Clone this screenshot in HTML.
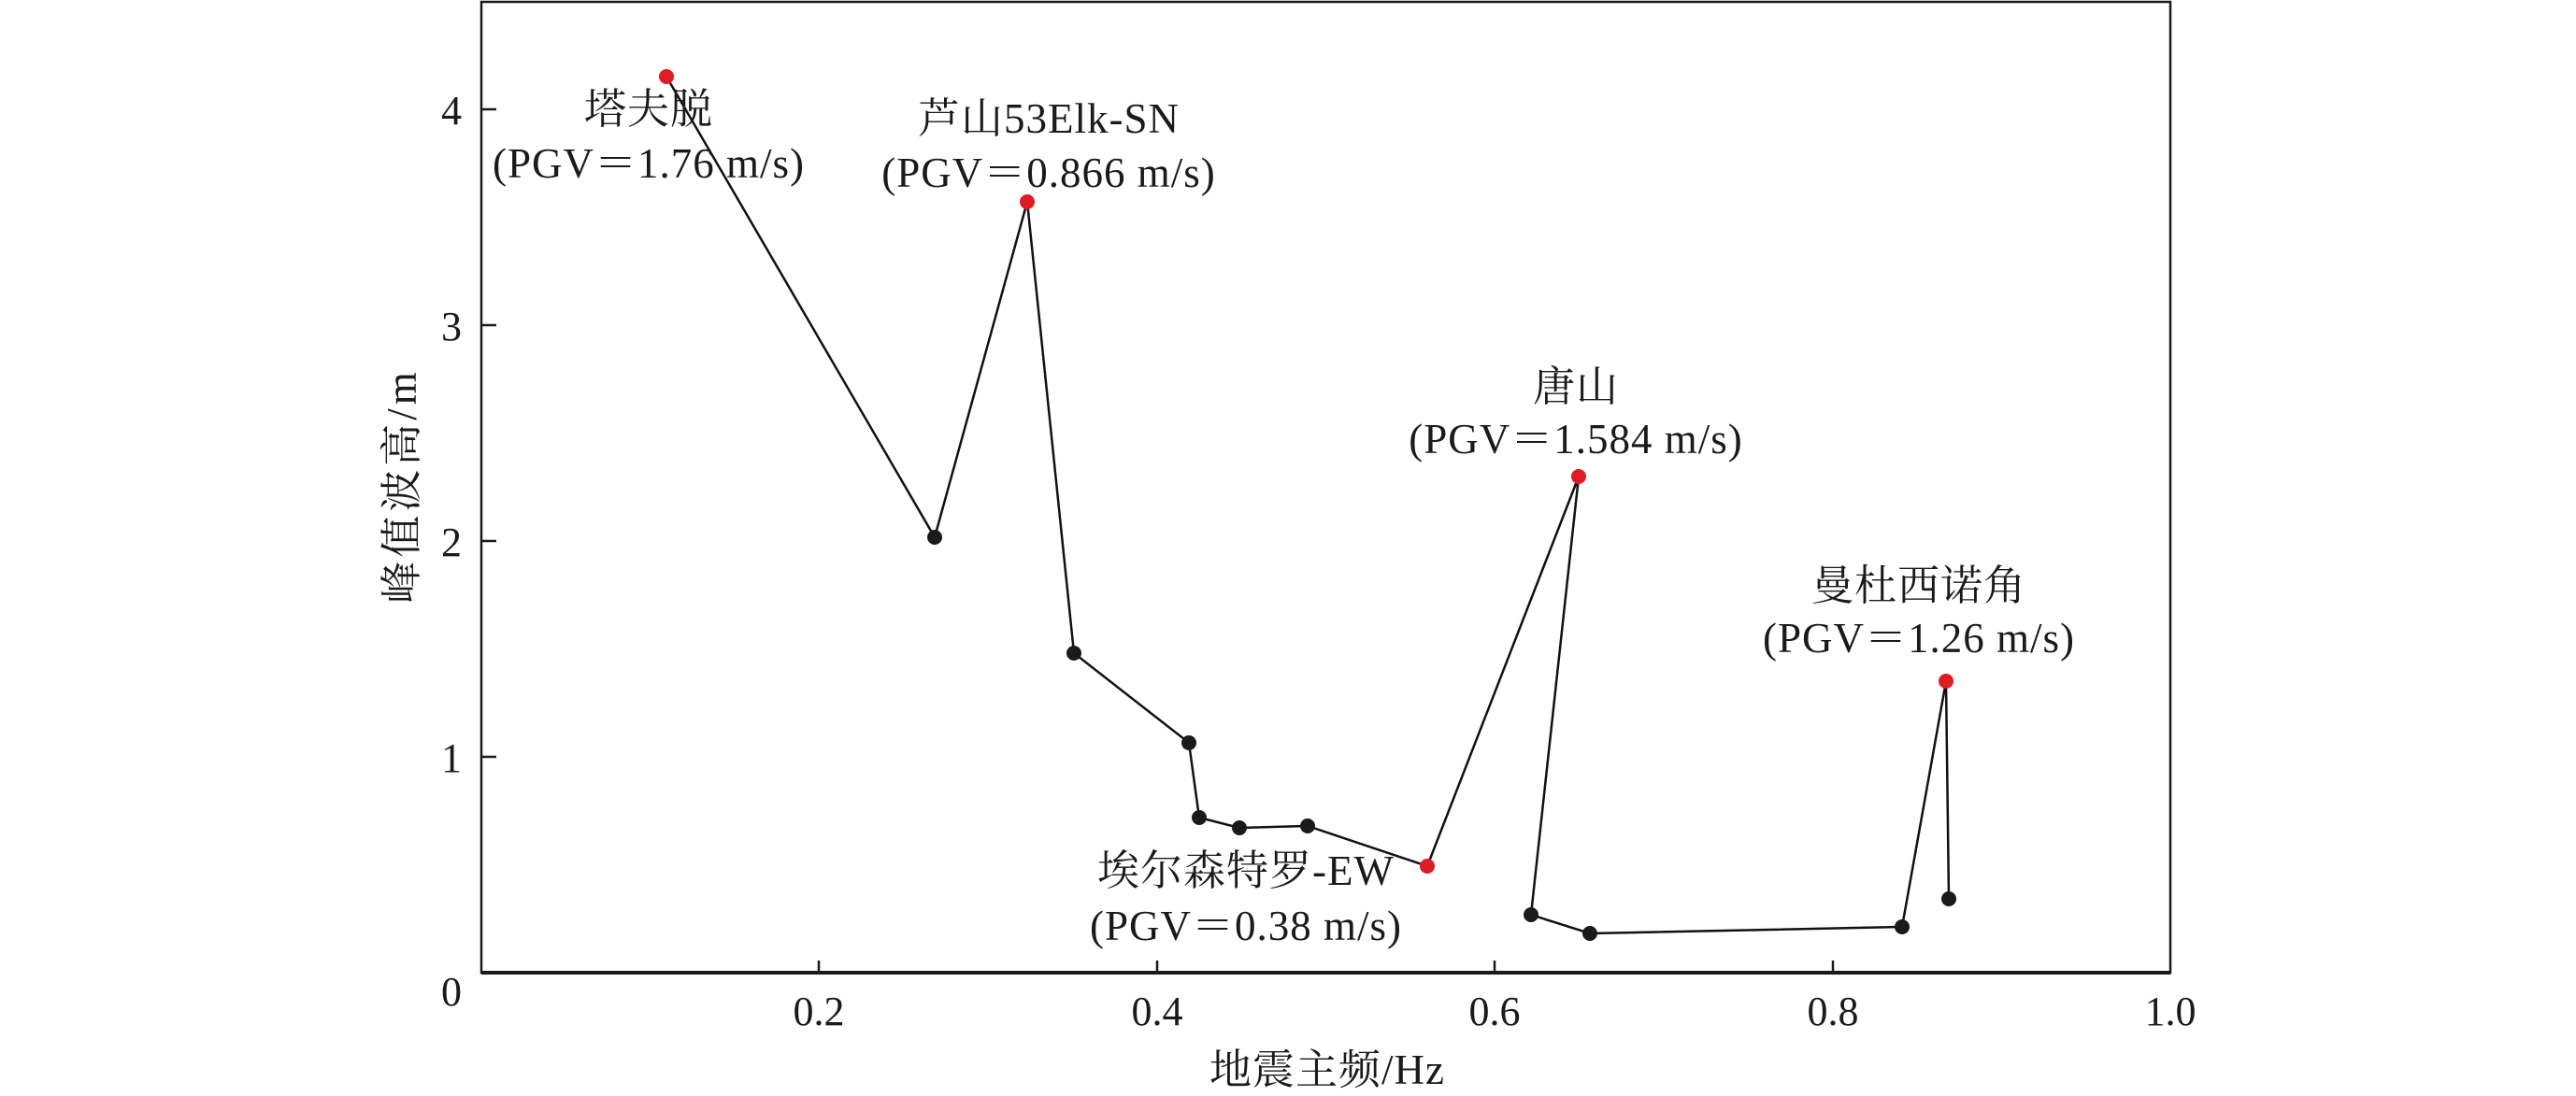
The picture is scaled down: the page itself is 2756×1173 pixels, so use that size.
<!DOCTYPE html>
<html><head><meta charset="utf-8"><style>html,body{margin:0;padding:0;background:#fff}svg{display:block}</style></head>
<body>
<svg width="2756" height="1173" viewBox="0 0 2756 1173" xmlns="http://www.w3.org/2000/svg" font-family="'Liberation Serif','Noto Serif CJK SC',serif" fill="#1a1a1a">
<rect x="515" y="2" width="1807" height="1039" fill="none" stroke="#1a1a1a" stroke-width="2.5"/>
<line x1="515" y1="1041" x2="2322" y2="1041" stroke="#1a1a1a" stroke-width="4"/>
<g stroke="#1a1a1a" stroke-width="2.5">
<line x1="876" y1="1041" x2="876" y2="1028"/><line x1="1238" y1="1041" x2="1238" y2="1028"/>
<line x1="1599" y1="1041" x2="1599" y2="1028"/><line x1="1961" y1="1041" x2="1961" y2="1028"/>
<line x1="515" y1="810" x2="531" y2="810"/><line x1="515" y1="579" x2="531" y2="579"/>
<line x1="515" y1="348" x2="531" y2="348"/><line x1="515" y1="117" x2="531" y2="117"/>
</g>
<g font-size="44" text-anchor="middle">
<text x="876" y="1097">0.2</text><text x="1238" y="1097">0.4</text><text x="1599" y="1097">0.6</text><text x="1961" y="1097">0.8</text><text x="2322" y="1097">1.0</text>
</g>
<g font-size="44" text-anchor="end">
<text x="494" y="1076">0</text><text x="494" y="826">1</text><text x="494" y="595">2</text><text x="494" y="364">3</text><text x="494" y="133">4</text>
</g>
<text x="1420" y="1160" font-size="45" text-anchor="middle" letter-spacing="1">地震主频/Hz</text>
<text transform="translate(445,520) rotate(-90)" font-size="45" text-anchor="middle" letter-spacing="4">峰值波高/m</text>
<polyline fill="none" stroke="#111" stroke-width="2.5" points="713,82 1000,575 1099,216 1149,699 1272,795 1283,875 1326,886 1399,884 1527,927 1689,510 1638,979 1701,999 2035,992 2082,729 2085,962"/>
<g fill="#1a1a1a">
<circle cx="1000" cy="575" r="8"/><circle cx="1149" cy="699" r="8"/><circle cx="1272" cy="795" r="8"/><circle cx="1283" cy="875" r="8"/><circle cx="1326" cy="886" r="8"/><circle cx="1399" cy="884" r="8"/><circle cx="1638" cy="979" r="8"/><circle cx="1701" cy="999" r="8"/><circle cx="2035" cy="992" r="8"/><circle cx="2085" cy="962" r="8"/>
</g>
<g fill="#e01b24">
<circle cx="713" cy="82" r="8"/><circle cx="1099" cy="216" r="8"/><circle cx="1527" cy="927" r="8"/><circle cx="1689" cy="510" r="8"/><circle cx="2082" cy="729" r="8"/>
</g>
<g font-size="45" text-anchor="middle" letter-spacing="1">
<text x="694" y="132">塔夫脱</text><text x="694" y="190">(PGV＝1.76 m/s)</text>
<text x="1122" y="142">芦山53Elk-SN</text><text x="1122" y="200">(PGV＝0.866 m/s)</text>
<text x="1686" y="429">唐山</text><text x="1686" y="485">(PGV＝1.584 m/s)</text>
<text x="2053" y="642">曼杜西诺角</text><text x="2053" y="698">(PGV＝1.26 m/s)</text>
<text x="1333" y="947">埃尔森特罗-EW</text><text x="1333" y="1006">(PGV＝0.38 m/s)</text>
</g>
</svg>
</body></html>
